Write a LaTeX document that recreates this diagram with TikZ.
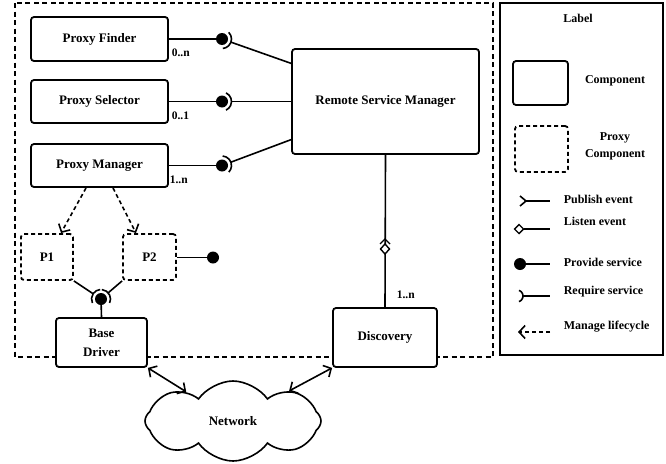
\documentclass[tikz,border=0pt]{standalone}
\usepackage{fontspec}
\setmainfont{Liberation Serif}
\usetikzlibrary{positioning,calc,shapes.symbols,arrows.meta}

\begin{document}
\begin{tikzpicture}[x=1pt,y=-1pt,line width=1.6pt,>={Straight Barb[length=6pt,width=13pt]},
  comp/.style={draw,fill=white,line width=1.8pt,rounded corners=3pt,inner sep=0pt,align=center,
    font=\bfseries\fontsize{13}{19}\selectfont},
  proxy/.style={comp,dash pattern=on 4pt off 3pt},
  mult/.style={font=\bfseries\fontsize{11.5}{13}\selectfont,inner sep=0pt},
  legtext/.style={font=\bfseries\fontsize{12}{17}\selectfont,inner sep=0pt,align=center}]
  \useasboundingbox (0,0) rectangle (666,463);
  % frames
  \draw[dash pattern=on 5pt off 3.5pt,line width=1.8pt] (15,3) rectangle (493,357);
  \draw[line width=1.8pt] (500,3) rectangle (663,355);
  % components
  \node[comp,minimum width=137pt,minimum height=44pt] (finder) at (99.5,39) {Proxy Finder};
  \node[comp,minimum width=137pt,minimum height=43pt] (selector) at (99.5,101.5) {Proxy Selector};
  \node[comp,minimum width=137pt,minimum height=43pt] (manager) at (99.5,165.5) {Proxy Manager};
  \node[comp,minimum width=187pt,minimum height=105pt] (rsm) at (385.5,101.5) {Remote Service Manager};
  \node[proxy,minimum width=52pt,minimum height=46pt] (p1) at (47,257) {P1};
  \node[proxy,minimum width=53pt,minimum height=46pt] (p2) at (149.5,257) {P2};
  \node[comp,minimum width=91pt,minimum height=49pt] (base) at (101.5,342.5) {Base\\Driver};
  \node[comp,minimum width=104pt,minimum height=59pt] (disc) at (385,337.5) {Discovery};
  \node[cloud,draw,cloud puffs=8,cloud puff arc=110,aspect=2.3,minimum width=176pt,minimum height=80pt,
    inner sep=0pt,font=\bfseries\fontsize{13}{15}\selectfont] (net) at (233,421) {Network};
  % provided / required services towards the manager
  \coordinate (bf) at (222,39);
  \coordinate (bs) at (222,101.5);
  \coordinate (bm) at (222,165.5);
  \coordinate (rf) at ($(rsm.north west)!0.143!(rsm.south west)$);
  \coordinate (rs) at (rsm.west);
  \coordinate (rm) at ($(rsm.north west)!0.857!(rsm.south west)$);
  \foreach \b/\r/\a/\s in {bf/rf/20/finder,bs/rs/0/selector,bm/rm/-21/manager}{
    \draw (\s.east |- \b) -- (\b);
    \fill (\b) circle(6pt);
    \draw ([shift={(\a-65:9.5)}]\b) arc[start angle=\a-65,end angle=\a+65,radius=9.5];
    \draw ($(\b)!9.5pt!(\r)$) -- (\r);
  }
  \node[mult,anchor=west] at (171,53) {0..n};
  \node[mult,anchor=west] at (171,116) {0..1};
  \node[mult,anchor=west] at (169,180) {1..n};
  % proxies and base driver
  \draw[->,dash pattern=on 4pt off 3pt] (86,188) -- (61,233);
  \draw[->,dash pattern=on 4pt off 3pt] (113,188) -- (136,233);
  \coordinate (bp) at (213,257.5);
  \draw (p2.east |- bp) -- (bp);
  \fill (bp) circle(6pt);
  \coordinate (bb) at (101,299);
  \draw (bb) -- (base.north);
  \fill (bb) circle(6pt);
  \draw ([shift={(155:9.5)}]bb) arc[start angle=155,end angle=265,radius=9.5];
  \draw ([shift={(275:9.5)}]bb) arc[start angle=275,end angle=385,radius=9.5];
  \draw (p1.south east) -- ($(bb)!9.5pt!(p1.south east)$);
  \draw (p2.south west) -- ($(bb)!9.5pt!(p2.south west)$);
  % discovery listens to the manager
  \draw (rsm.south) -- (disc.north);
  \coordinate (dd) at (385,249);
  \draw[fill=white,line width=1.4pt] ($(dd)+(0,-5)$) -- ($(dd)+(4.5,0)$) -- ($(dd)+(0,5)$) -- ($(dd)+(-4.5,0)$) -- cycle;
  \draw[line width=1.4pt] ($(dd)+(-5,-5)$) -- ($(dd)+(0,-10)$) -- ($(dd)+(5,-5)$);
  \node[mult,anchor=west] at (396,295) {1..n};
  % network
  \draw[<->] (base.south east) -- (net);
  \draw[<->] (disc.south west) -- (net);
  % legend
  \node[legtext] (lab) at (578,18) {Label};
  \node[comp,minimum width=55pt,minimum height=44pt] (lcomp) at (540.5,83) {};
  \node[legtext] at (615,81) {Component};
  \node[proxy,minimum width=53pt,minimum height=46pt] (lproxy) at (541.5,149) {};
  \node[legtext] at (615,146) {Proxy\\Component};
  \draw (520,196) -- (526,201) -- (520,206);
  \draw (526,201) -- (550,201);
  \node[legtext,anchor=west] at (563,199) {Publish event};
  \draw[fill=white,line width=1.4pt] (514.5,229) -- (519,224.5) -- (523.5,229) -- (519,233.5) -- cycle;
  \draw (523.5,229) -- (550,229);
  \node[legtext,anchor=west] at (563,221) {Listen event};
  \fill (520,264) circle(6pt);
  \draw (520,264) -- (550,264);
  \node[legtext,anchor=west] at (563,262) {Provide service};
  \draw ([shift={(-70:6)}]517,296) arc[start angle=-70,end angle=70,radius=6];
  \draw (523,296) -- (550,296);
  \node[legtext,anchor=west] at (563,292) {Require service};
  \draw[->,dash pattern=on 4pt off 3pt] (550,332) -- (518,332);
  \node[legtext,anchor=west] at (563,327) {Manage lifecycle};
\end{tikzpicture}
\end{document}
